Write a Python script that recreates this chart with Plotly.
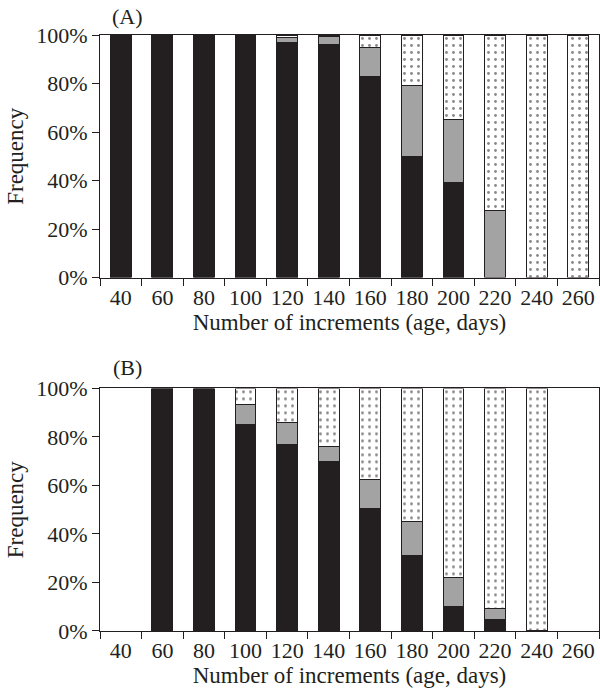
import plotly.graph_objects as go
from plotly.subplots import make_subplots

categories = ["40", "60", "80", "100", "120", "140", "160", "180", "200", "220", "240", "260"]

# Panel A (None = no bar segment)
a_black = [100, 100, 100, 100, 97, 96, 83, 50, 39, None, None, None]
a_grey = [None, None, None, None, 2, 3.5, 12, 29, 26, 27.5, None, None]
a_dot = [None, None, None, None, 1, 0.5, 5, 21, 35, 72.5, 100, 100]

# Panel B
b_black = [None, 100, 100, 85, 77, 70, 50.6, 31, 10, 4.6, None, None]
b_grey = [None, None, None, 8.5, 9, 6, 11.8, 14, 12, 4.5, None, None]
b_dot = [None, None, None, 6.5, 14, 24, 37.6, 55, 78, 90.9, 100, None]

yticks = [0, 20, 40, 60, 80, 100]
ytick_text = ["0%", "20%", "40%", "60%", "80%", "100%"]

BLACK = "#231f20"
GREY = "#a3a3a3"
LINE = "#231f20"
FONT = "Liberation Serif"
TICK = 22
TITLE = 23

fig = make_subplots(rows=2, cols=1, vertical_spacing=0.186)

def add_panel(row, black, grey, dot):
    fig.add_trace(go.Bar(x=categories, y=black, marker=dict(color=BLACK, line=dict(color=LINE, width=1)),
                         showlegend=False), row=row, col=1)
    fig.add_trace(go.Bar(x=categories, y=grey, marker=dict(color=GREY, line=dict(color=LINE, width=1)),
                         showlegend=False), row=row, col=1)
    fig.add_trace(go.Bar(x=categories, y=dot,
                         marker=dict(color="white", line=dict(color=LINE, width=1),
                                     pattern=dict(shape=".", fgcolor="#111111", bgcolor="white",
                                                  size=7, solidity=0.13)),
                         showlegend=False), row=row, col=1)

add_panel(1, a_black, a_grey, a_dot)
add_panel(2, b_black, b_grey, b_dot)

for r in (1, 2):
    fig.update_xaxes(type="category", categoryorder="array", categoryarray=categories,
                     range=[-0.5, 11.5], automargin=False, tickangle=0,
                     tickson="boundaries", ticks="outside", ticklen=7, tickcolor=LINE,
                     showline=True, linecolor=LINE, linewidth=1, mirror=True,
                     showgrid=False, tickfont=dict(family=FONT, size=TICK, color=BLACK),
                     title=dict(text="Number of increments (age, days)", standoff=3,
                                font=dict(family=FONT, size=TITLE, color=BLACK)),
                     row=r, col=1)
    fig.update_yaxes(range=[0, 100], tickvals=yticks, ticktext=ytick_text, ticks="outside", ticklen=7,
                     automargin=False,
                     tickcolor=LINE, showline=True, linecolor=LINE, linewidth=1, mirror=True,
                     showgrid=False, zeroline=False, tickfont=dict(family=FONT, size=TICK, color=BLACK),
                     title=dict(text="Frequency", standoff=6, font=dict(family=FONT, size=TITLE, color=BLACK)),
                     row=r, col=1)

fig.update_layout(
    barmode="stack", bargap=0.5,
    width=600, height=693,
    margin=dict(l=100, r=1, t=35, b=62),
    plot_bgcolor="white", paper_bgcolor="white",
    font=dict(family=FONT, size=TICK, color=BLACK),
)
fig.add_annotation(text="(A)", xref="paper", yref="paper", x=0.055, y=1.0, yshift=4,
                   xanchor="center", yanchor="bottom", showarrow=False,
                   font=dict(family=FONT, size=TICK, color=BLACK))
fig.add_annotation(text="(B)", xref="paper", yref="paper", x=0.055, y=0.411, yshift=4,
                   xanchor="center", yanchor="bottom", showarrow=False,
                   font=dict(family=FONT, size=TICK, color=BLACK))

fig.write_html("out.html", config={"displayModeBar": False},
               post_script="document.body.style.margin='0';document.body.style.overflow='hidden';")
